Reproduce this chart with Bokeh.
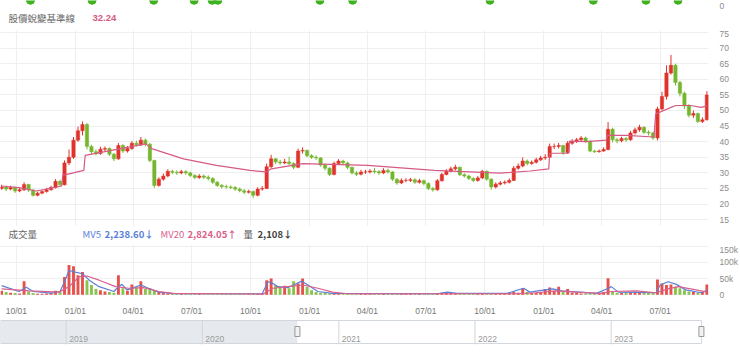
from datetime import datetime
import pandas as pd
from bokeh.plotting import figure
from bokeh.layouts import column
from bokeh.models import Range1d, FixedTicker, Label, ColumnDataSource, DatetimeTickFormatter
from bokeh.embed import file_html
from bokeh.resources import INLINE
from bokeh.core.properties import value

# ---------------- data ----------------
first_week = "2020-09-08"          # weekly candles
first_open = 25.0
close = [25.5, 24.8, 25.3, 24.2, 24.6, 26.3, 24.5, 22.8, 23.5, 24.0,
         24.6, 25.3, 27.3, 26.2, 33.2, 35.0, 40.5, 43.5, 45.5, 38.5,
         36.8, 36.2, 37.6, 37.8, 36.0, 34.5, 38.8, 37.0, 37.8, 39.5,
         39.0, 40.5, 39.2, 34.0, 26.0, 28.0, 29.0, 30.5, 30.2, 30.0,
         30.4, 30.0, 29.2, 28.5, 29.0, 28.6, 28.2, 27.0, 26.0, 25.6,
         25.5, 25.3, 24.8, 24.3, 23.8, 24.0, 22.8, 24.8, 25.0, 32.0,
         34.5, 33.5, 33.2, 33.5, 33.0, 31.8, 37.0, 37.2, 35.5, 35.0,
         34.8, 32.5, 31.5, 29.5, 33.0, 33.8, 33.2, 31.8, 30.0, 29.6,
         30.3, 30.3, 30.6, 30.4, 30.0, 30.8, 30.3, 28.0, 26.8, 27.6,
         27.6, 27.8, 27.0, 27.5, 26.6, 25.0, 24.6, 27.5, 29.5, 30.5,
         31.3, 31.8, 29.4, 29.0, 28.2, 27.6, 28.4, 30.5, 28.0, 25.5,
         26.4, 26.8, 27.0, 27.6, 31.5, 32.2, 33.8, 33.0, 33.4, 34.2,
         34.8, 35.0, 38.5, 38.5, 38.8, 36.5, 39.5, 40.0, 40.6, 41.2,
         40.2, 37.0, 36.8, 37.0, 37.5, 44.0, 40.6, 40.3, 41.0, 40.6,
         42.8, 43.8, 44.6, 43.0, 42.8, 41.2, 50.5, 54.5, 62.0, 64.5,
         59.0, 55.5, 51.5, 48.5, 49.0, 46.5, 47.0, 55.0]
high = [26.2, 25.9, 25.9, 25.6, 25.2, 27.0, 26.5, 24.8, 24.0, 24.5,
        25.2, 25.9, 28.0, 27.8, 34.0, 37.5, 41.5, 44.8, 46.5, 46.0,
        39.0, 37.5, 38.4, 38.5, 38.2, 36.4, 39.6, 39.2, 38.6, 40.2,
        40.3, 41.5, 41.0, 39.6, 34.2, 28.6, 29.8, 31.2, 31.0, 30.8,
        31.0, 30.9, 30.4, 29.6, 29.6, 29.5, 29.2, 28.6, 27.4, 26.4,
        26.2, 26.0, 25.8, 25.3, 24.8, 24.6, 24.4, 25.4, 25.8, 33.0,
        35.8, 34.8, 34.2, 34.5, 35.2, 33.4, 37.8, 38.2, 37.5, 36.0,
        35.6, 35.0, 33.0, 31.8, 33.6, 34.4, 34.2, 33.6, 32.0, 30.5,
        31.0, 31.0, 31.2, 31.6, 30.9, 31.5, 31.4, 30.6, 28.3, 28.2,
        28.3, 28.4, 28.3, 28.1, 27.9, 27.0, 25.5, 28.0, 30.0, 31.2,
        32.0, 32.6, 32.0, 29.9, 29.4, 28.6, 29.0, 31.0, 30.8, 28.3,
        27.0, 27.4, 27.6, 28.2, 32.2, 33.0, 35.0, 34.3, 34.0, 34.9,
        35.5, 36.0, 39.4, 39.4, 39.6, 39.0, 40.2, 40.8, 41.2, 41.8,
        41.6, 40.4, 37.4, 37.5, 38.2, 46.3, 44.5, 41.2, 41.6, 41.5,
        43.5, 44.5, 45.4, 45.0, 43.6, 43.2, 51.2, 56.0, 64.5, 67.8,
        65.0, 59.5, 56.0, 52.0, 50.0, 49.3, 47.8, 56.2]
low = [24.6, 24.2, 24.4, 23.6, 23.8, 24.2, 23.9, 22.4, 22.5, 23.2,
       23.7, 24.3, 25.0, 25.8, 26.0, 32.5, 34.5, 40.0, 42.0, 37.5,
       36.0, 35.6, 35.8, 36.8, 35.4, 33.8, 34.2, 36.4, 36.5, 37.4,
       38.5, 38.6, 38.5, 33.4, 25.2, 25.6, 27.5, 28.6, 29.6, 29.4,
       29.6, 29.4, 28.7, 28.0, 28.1, 28.0, 27.6, 26.5, 25.5, 25.0,
       25.0, 24.8, 24.2, 23.8, 23.2, 23.4, 22.0, 22.5, 24.3, 24.8,
       31.6, 32.8, 32.6, 32.8, 32.4, 31.2, 31.5, 36.2, 35.0, 34.5,
       34.2, 32.0, 30.8, 29.0, 29.2, 32.6, 32.6, 31.2, 29.5, 29.0,
       29.2, 29.7, 29.8, 29.8, 29.4, 29.6, 29.8, 27.4, 26.2, 26.4,
       27.0, 27.1, 26.5, 26.6, 26.0, 24.5, 24.0, 24.3, 27.2, 29.2,
       30.2, 30.8, 29.0, 28.5, 27.7, 27.1, 27.2, 28.0, 27.5, 24.6,
       25.0, 26.0, 26.3, 26.6, 27.4, 31.0, 31.8, 32.4, 32.6, 33.0,
       33.8, 34.2, 34.8, 37.6, 37.8, 35.8, 36.2, 39.0, 39.6, 40.2,
       39.6, 36.6, 36.4, 36.5, 36.8, 37.2, 39.8, 39.5, 39.8, 40.0,
       40.3, 42.3, 43.2, 42.5, 42.0, 40.6, 40.4, 50.0, 53.5, 61.5,
       58.0, 54.5, 50.5, 47.8, 47.6, 46.0, 46.0, 46.8]
volume_k = [12, 8, 6, 5, 4, 42, 10, 5, 3, 3,
            4, 6, 12, 8, 55, 92, 88, 60, 70, 45,
            30, 18, 14, 10, 8, 6, 60, 20, 12, 32,
            22, 42, 18, 20, 14, 8, 5, 4, 3, 2,
            2, 2, 2, 2, 2, 2, 2, 2, 2, 2,
            2, 2, 2, 2, 2, 2, 3, 2, 3, 45,
            50, 30, 25, 28, 20, 42, 35, 50, 25, 14,
            8, 6, 5, 4, 4, 3, 2, 2, 2, 2,
            2, 2, 2, 2, 2, 2, 2, 2, 3, 3,
            4, 5, 4, 3, 3, 4, 3, 5, 6, 8,
            5, 4, 3, 3, 2, 2, 2, 3, 2, 2,
            3, 3, 4, 5, 8, 6, 20, 8, 5, 6,
            8, 18, 22, 12, 25, 8, 18, 6, 5, 4,
            4, 3, 3, 5, 8, 51, 10, 6, 5, 6,
            7, 6, 5, 6, 5, 8, 47, 35, 30, 32,
            25, 20, 14, 10, 8, 6, 8, 32]

# baseline (pink step line), knots as week offsets from first_week
base_week = [0, 3.9, 7.7, 13.4, 13.6, 18.3, 18.6, 32.1, 33.4, 40.5, 47.8, 55.3,
             58.9, 60.0, 67.1, 81.5, 96.3, 110.9, 117.6, 121.8, 122.0, 126.2,
             126.4, 130.2, 134.6, 134.9, 139.0, 145.2, 145.6, 149.0, 150.1,
             153.4, 155.7, 157]
base_val = [25.8, 25.3, 24.2, 25.8, 29.2, 30.8, 35.6, 39.3, 37.8, 34.5, 32.4, 30.8,
            30.3, 31.3, 33.0, 32.4, 30.8, 29.9, 30.6, 31.3, 36.3, 36.3,
            40.2, 40.0, 40.5, 42.0, 42.0, 41.5, 48.9, 51.0, 51.6,
            51.6, 51.0, 51.5]
mv5_week = [0, 3.9, 5.5, 7.0, 11.0, 13.0, 14.0, 15.0, 16.4, 18.0, 19.5, 21.7, 25.0,
            26.0, 26.8, 27.9, 29.4, 31.0, 32.7, 35.0, 38.3, 58.0, 59.3, 60.4, 61.5,
            63.7, 65.0, 66.8, 68.2, 70.4, 73.7, 97.0, 99.2, 101.4, 112.5, 116.2,
            117.6, 121.3, 122.7, 124.7, 132.4, 135.1, 135.7, 137.3, 145.7, 146.6,
            148.4, 150.2, 152.3, 155.7, 157]
mv5_val = [28, 10, 23, 10, 5, 10, 40, 75, 70, 65, 45, 25, 10,
           25, 32, 15, 22, 30, 20, 8, 3, 3, 40, 35, 25,
           22, 30, 42, 30, 10, 4, 3, 8, 4, 4, 20,
           8, 16, 18, 12, 4, 20, 25, 8, 6, 30,
           40, 32, 15, 6, 14]
mv20_week = [0, 6.2, 12.8, 15.0, 17.2, 19.0, 21.7, 25.4, 28.3, 31.6, 35.0, 38.3,
             58.2, 60.4, 63.7, 67.1, 70.4, 73.7, 77.0, 114.7, 119.0, 123.5, 128.0,
             133.5, 135.7, 141.3, 145.7, 148.4, 150.6, 154.6, 157]
mv20_val = [18, 12, 8, 25, 55, 58, 45, 25, 20, 22, 10, 4,
            2, 20, 25, 30, 20, 8, 3, 3, 6, 12, 8,
            4, 10, 12, 6, 18, 25, 15, 8]

signal_dates = ["2020-10-23", "2021-01-27", "2021-05-03", "2021-07-05", "2021-08-02",
                "2021-08-11", "2022-01-17", "2022-03-09", "2022-10-09", "2023-03-19",
                "2023-06-09", "2023-07-29"]
quarter_ticks = ["2020-10-01", "2021-01-01", "2021-04-01", "2021-07-01", "2021-10-01",
                 "2022-01-01", "2022-04-01", "2022-07-01", "2022-10-01", "2023-01-01",
                 "2023-04-01", "2023-07-01"]
price_ticks = [15, 20, 25, 30, 35, 40, 45, 50, 55, 60, 65, 70, 75]
volume_ticks = [0, 50, 100, 150]
volume_tick_labels = ["0", "50k", "100k", "150k"]
nav_years = ["2019", "2020", "2021", "2022", "2023"]

title_text = "股價蛻變基準線"
title_value = "32.24"
vol_title = "成交量"
mv5_label, mv5_value = "MV5", "2,238.60↓"
mv20_label, mv20_value = "MV20", "2,824.05↑"
qty_label, qty_value = "量", "2,108↓"

# ---------------- derived table ----------------
DAY_MS = 86400000.0
t0 = pd.Timestamp(first_week)
dates = pd.DatetimeIndex([t0 + pd.Timedelta(days=7 * i) for i in range(len(close))])
opens = [first_open] + close[:-1]
RED, GREEN = "#e0332b", "#74b72e"
colors = [RED if c >= o else GREEN for o, c in zip(opens, close)]
src = ColumnDataSource(dict(
    x=dates.values, h=high, l=low,
    top=[max(o, c) for o, c in zip(opens, close)],
    bot=[min(o, c) for o, c in zip(opens, close)],
    color=colors, vol=volume_k))


def week_dates(ws):
    return pd.DatetimeIndex([t0 + pd.Timedelta(days=7 * w) for w in ws]).values


quarter_ms = [pd.Timestamp(d).value / 1e6 for d in quarter_ticks]

CJK = "Noto Sans CJK TC"
NUM = "Liberation Sans"
xr = Range1d(start=datetime(2020, 9, 6, 6), end=datetime(2023, 9, 14, 12))
common = dict(width=740, toolbar_location=None, output_backend="svg",
              min_border_left=0, min_border_right=27,
              background_fill_color="white", border_fill_color="white",
              outline_line_color=None)


def style_yaxis(p, ticks):
    ax = p.yaxis[0]
    ax.ticker = FixedTicker(ticks=ticks)
    ax.axis_line_color = None
    ax.major_tick_line_color = None
    ax.minor_tick_line_color = None
    ax.major_label_standoff = 5
    ax.major_label_text_font = NUM
    ax.major_label_text_font_size = "8.5px"
    ax.major_label_text_color = "#8c8c8c"


def add_label(p, x, y, txt, col, bold=False, font=CJK, size="9.5px"):
    p.add_layout(Label(x=x, y=y, x_units="screen", y_units="screen", text=txt,
                       text_font=font, text_font_size=size, text_color=col,
                       text_font_style="bold" if bold else "normal",
                       text_baseline="middle"))


# ---------------- top strip with signals + title ----------------
pt = figure(height=30, x_range=xr, y_range=Range1d(-25, 5), x_axis_type="datetime",
            x_axis_location=None, y_axis_location="right",
            min_border_top=0, min_border_bottom=0, **common)
style_yaxis(pt, [0])
pt.grid.visible = False
pt.scatter(x=pd.DatetimeIndex(signal_dates).values, y=5.2, size=8,
           color="#3fb21f", line_color="#3fb21f")
add_label(pt, 8, 13, title_text, "#666666")
add_label(pt, 92, 13, title_value, "#d4587f", bold=True, font=NUM)

# ---------------- price panel ----------------
pa = figure(height=196, x_range=xr, y_range=Range1d(12.82, 75.64), x_axis_type="datetime",
            x_axis_location=None, y_axis_location="right",
            min_border_top=0, min_border_bottom=0, **common)
style_yaxis(pa, price_ticks)
pa.ygrid.ticker = FixedTicker(ticks=price_ticks)
pa.xgrid.ticker = FixedTicker(ticks=quarter_ms)
pa.grid.grid_line_color = "#efefef"
pa.segment(x0="x", y0="h", x1="x", y1="l", color="color", line_width=1, source=src)
pa.vbar(x="x", width=5.2 * DAY_MS, top="top", bottom="bot", fill_color="color",
        line_color="color", line_width=0.5, source=src)
pa.line(x=week_dates(base_week), y=base_val, color="#d65a86", line_width=1.2)

# ---------------- volume header ----------------
ph = figure(height=18, x_range=xr, y_range=Range1d(0, 18), x_axis_location=None,
            y_axis_location=None, min_border_top=0, min_border_bottom=0, **common)
ph.grid.visible = False
hy = 11
add_label(ph, 8, hy, vol_title, "#666666")
add_label(ph, 82, hy, mv5_label, "#5b7fd8")
add_label(ph, 104, hy, mv5_value, "#5b7fd8", bold=True)
add_label(ph, 160, hy, mv20_label, "#d9608a")
add_label(ph, 187, hy, mv20_value, "#d9608a", bold=True)
add_label(ph, 243, hy, qty_label, "#555555")
add_label(ph, 257, hy, qty_value, "#444444", bold=True)

# ---------------- volume panel ----------------
pb = figure(height=74, x_range=xr, y_range=Range1d(-5.56, 155.6), x_axis_type="datetime",
            y_axis_location="right", min_border_top=0, min_border_bottom=16, **common)
style_yaxis(pb, volume_ticks)
pb.yaxis[0].major_label_overrides = {t: s for t, s in zip(volume_ticks, volume_tick_labels)}
pb.ygrid.ticker = FixedTicker(ticks=volume_ticks)
pb.xgrid.ticker = FixedTicker(ticks=quarter_ms)
pb.grid.grid_line_color = "#efefef"
xa = pb.xaxis[0]
xa.ticker = FixedTicker(ticks=quarter_ms)
fmt = "%m/%d"
xa.formatter = DatetimeTickFormatter(days=fmt, months=fmt, years=fmt, hours=fmt,
                                     hourmin=fmt, minutes=fmt, minsec=fmt, seconds=fmt,
                                     milliseconds=fmt, microseconds=fmt)
xa.axis_line_color = None
xa.major_tick_line_color = None
xa.minor_tick_line_color = None
xa.major_label_standoff = 3
xa.major_label_text_font = NUM
xa.major_label_text_font_size = "8.5px"
xa.major_label_text_color = "#777777"
pb.vbar(x="x", width=4.5 * DAY_MS, top="vol", bottom=0, fill_color="color",
        line_color=None, fill_alpha=0.85, source=src)
pb.line(x=week_dates(mv5_week), y=mv5_val, color="#5b7fd8", line_width=1.2)
pb.line(x=week_dates(mv20_week), y=mv20_val, color="#d9608a", line_width=1.2)

# ---------------- navigator ----------------
nav_start = datetime(2018, 7, 9)
win_start, win_end = datetime(2020, 9, 12), datetime(2023, 8, 31)
pc = figure(width=740, height=35, x_range=Range1d(nav_start, datetime(2023, 9, 19)),
            y_range=Range1d(0, 35), x_axis_type="datetime", x_axis_location=None,
            y_axis_location=None, toolbar_location=None, output_backend="svg",
            min_border_left=0, min_border_right=20, min_border_top=0, min_border_bottom=0,
            outline_line_color=None, background_fill_color="white",
            border_fill_color="white")
pc.grid.visible = False
pc.quad(left=nav_start, right=win_start, top=33, bottom=10, fill_color="#e6eaee",
        line_color=None)
pc.quad(left=nav_start, right=win_end, top=33, bottom=10, fill_color=None,
        line_color="#d2d7dd", line_width=1)
year_dates = pd.DatetimeIndex([f"{y}-01-01" for y in nav_years]).values
pc.segment(x0=year_dates, y0=9, x1=year_dates, y1=33, color="#cfd5db", line_width=1)
pc.text(x=year_dates, y=15, text=nav_years, x_offset=3, text_font=value(NUM),
        text_font_size="8.5px", text_color="#9a9a9a", text_baseline="middle")
pc.rect(x=[win_start, win_end], y=22, width=5, height=10, width_units="screen",
        height_units="screen", fill_color="#f2f2f2", line_color="#999999")

layout = column(pt, pa, ph, pb, pc, spacing=0)
open("out.html", "w").write(file_html(layout, INLINE))
